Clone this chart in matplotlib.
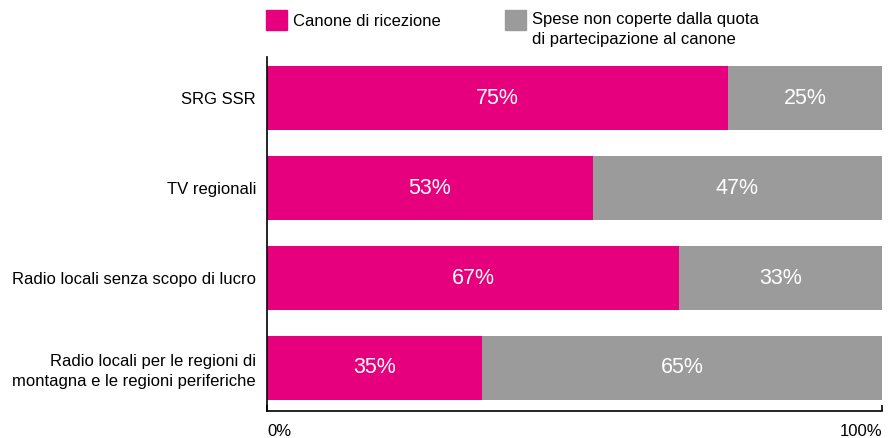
import matplotlib
matplotlib.use("Agg")
import matplotlib.pyplot as plt
from matplotlib.patches import Rectangle

plt.rcParams['font.family'] = ['Liberation Sans', 'DejaVu Sans']

categories = ["SRG SSR", "TV regionali", "Radio locali senza scopo di lucro",
              "Radio locali per le regioni di\nmontagna e le regioni periferiche"]
canone = [75, 53, 67, 35]
spese = [25, 47, 33, 65]
series_names = ["Canone di ricezione", "Spese non coperte dalla quota\ndi partecipazione al canone"]
pink = "#E6007E"
gray = "#9B9B9B"

fig = plt.figure(figsize=(8.9, 4.38), dpi=100)
ax = fig.add_axes([267/890, 1-411/438, (882-267)/890, (411-57)/438])

y = list(range(len(categories)))
ax.barh(y, canone, height=0.71, color=pink)
ax.barh(y, spese, left=canone, height=0.71, color=gray)
for i in y:
    ax.text(canone[i]/2, i, f"{canone[i]}%", color="white", ha="center", va="center", fontsize=15.5)
    ax.text(canone[i] + spese[i]/2, i, f"{spese[i]}%", color="white", ha="center", va="center", fontsize=15.5)

ax.set_xlim(0, 100)
ax.set_ylim(3.478, -0.456)
ax.set_yticks(y)
ylabels = ax.set_yticklabels(categories, fontsize=12)
for t in ylabels:
    t.set_linespacing(1.35)
ax.tick_params(axis='y', length=0, pad=8)
ax.set_xticks([0, 100])
labels = ax.set_xticklabels(["0%", "100%"], fontsize=12)
labels[0].set_horizontalalignment("left")
labels[0].set_x(-0.8)
labels[1].set_horizontalalignment("right")
labels[1].set_x(100.3)
ax.tick_params(axis='x', direction='in', length=4, width=1.2, pad=9)
for s in ["top", "right"]:
    ax.spines[s].set_visible(False)
for s in ["left", "bottom"]:
    ax.spines[s].set_linewidth(1.2)

# Legend
fig.patches.append(Rectangle((266/890, 1-30/438), 21/890, 20/438, transform=fig.transFigure, color=pink))
fig.text(293/890, 1-21/438, series_names[0], fontsize=12, va="center", ha="left")
fig.patches.append(Rectangle((505/890, 1-30/438), 21/890, 20/438, transform=fig.transFigure, color=gray))
fig.text(532/890, 1-12/438, series_names[1], fontsize=12, va="top", ha="left", linespacing=1.4)

fig.savefig("out.png", dpi=100)
